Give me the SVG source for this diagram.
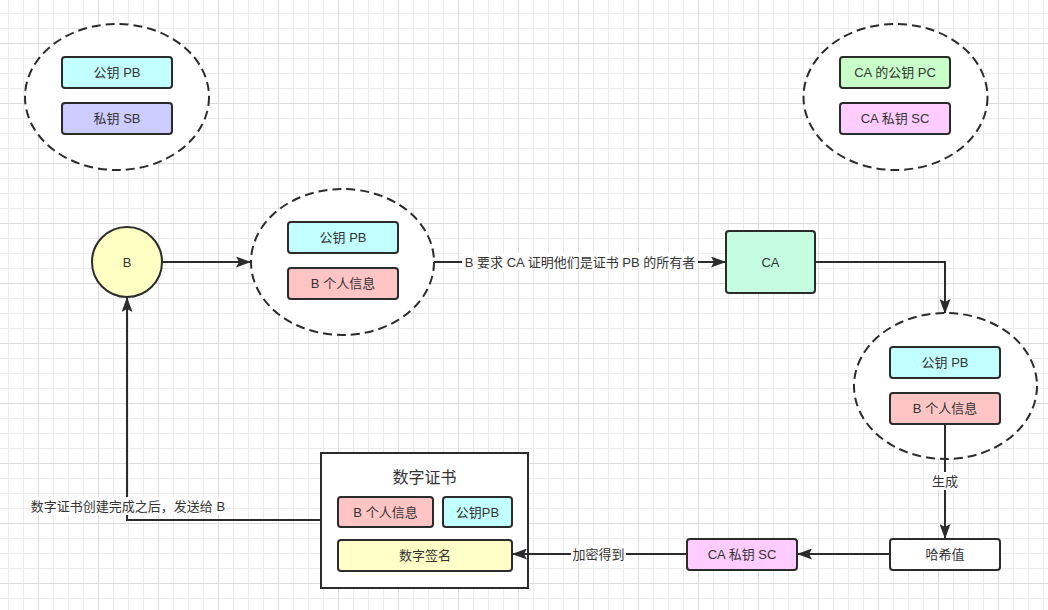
<svg xmlns="http://www.w3.org/2000/svg" width="1048" height="610" viewBox="0 0 1048 610">
  <defs>
    <pattern id="minor" x="8" y="13" width="15" height="15" patternUnits="userSpaceOnUse">
      <rect x="0" y="0" width="1" height="15" fill="#ececec"/>
      <rect x="0" y="0" width="15" height="1" fill="#ececec"/>
    </pattern>
    <pattern id="major" x="38" y="43" width="60" height="60" patternUnits="userSpaceOnUse">
      <rect x="0" y="0" width="1" height="60" fill="#dcdcdc"/>
      <rect x="0" y="0" width="60" height="1" fill="#dcdcdc"/>
    </pattern>
    <marker id="arr" viewBox="0 0 15 11" refX="14" refY="5.5" markerWidth="15" markerHeight="11" markerUnits="userSpaceOnUse" orient="auto">
      <path d="M0,0 L15,5.5 L0,11 L3,5.5 z" fill="#2b2b2b"/>
    </marker>
    <style>
      text { font-family: "Liberation Sans", "Noto Sans CJK SC", sans-serif; font-size: 13px; fill: #333333; text-anchor: middle; dominant-baseline: central; }
      .title { font-size: 16px; }
      .box { stroke: #2b2b2b; stroke-width: 2; }
      .grp { fill: #ffffff; stroke: #2b2b2b; stroke-width: 2; stroke-dasharray: 9 5; }
      .edge { fill: none; stroke: #2b2b2b; stroke-width: 2; }
      .lblbg { fill: #ffffff; }
      .pub { fill: #c2ffff; }
      .priv { fill: #ccccff; }
      .info { fill: #ffc4c4; }
      .capub { fill: #c8ffc8; }
      .capriv { fill: #ffccff; }
      .sig { fill: #ffffc8; }
    </style>
  </defs>
  <rect width="1048" height="610" fill="#ffffff"/>
  <rect width="1048" height="610" fill="url(#minor)"/>
  <rect width="1048" height="610" fill="url(#major)"/>

  <g id="b-keys">
    <ellipse class="grp" cx="117" cy="97" rx="92" ry="73"/>
    <rect class="box pub" x="62" y="57" width="110" height="31" rx="3"/>
    <text x="117" y="72.5">公钥 PB</text>
    <rect class="box priv" x="62" y="103" width="110" height="31" rx="3"/>
    <text x="117" y="118.5">私钥 SB</text>
  </g>

  <g id="ca-keys">
    <ellipse class="grp" cx="895.5" cy="97" rx="92" ry="73"/>
    <rect class="box capub" x="840" y="57" width="110" height="31" rx="3"/>
    <text x="895" y="72.5">CA 的公钥 PC</text>
    <rect class="box capriv" x="840" y="103" width="110" height="31" rx="3"/>
    <text x="895" y="118.5">CA 私钥 SC</text>
  </g>

  <g id="node-b">
    <circle cx="127" cy="262" r="35" fill="#ffffc4" stroke="#2b2b2b" stroke-width="2"/>
    <text x="127" y="262">B</text>
  </g>

  <g id="b-request">
    <ellipse class="grp" cx="342.5" cy="262" rx="91.5" ry="73"/>
    <rect class="box pub" x="288" y="222" width="110" height="31" rx="3"/>
    <text x="343" y="237.5">公钥 PB</text>
    <rect class="box info" x="288" y="268" width="110" height="31" rx="3"/>
    <text x="343" y="283.5">B 个人信息</text>
  </g>

  <g id="node-ca">
    <rect class="box" x="726" y="231" width="89" height="62" rx="3" fill="#c4fde0"/>
    <text x="770.5" y="262">CA</text>
  </g>

  <g id="ca-data">
    <ellipse class="grp" cx="945.5" cy="386" rx="91.5" ry="73"/>
    <rect class="box pub" x="890" y="347" width="110" height="31" rx="3"/>
    <text x="945" y="362.5">公钥 PB</text>
    <rect class="box info" x="890" y="393" width="110" height="31" rx="3"/>
    <text x="945" y="408.5">B 个人信息</text>
  </g>

  <g id="node-hash">
    <rect class="box" x="890" y="539" width="110" height="31" rx="3" fill="#ffffff"/>
    <text x="945" y="554.5">哈希值</text>
  </g>

  <g id="node-casc">
    <rect class="box capriv" x="687" y="539" width="110" height="31" rx="3"/>
    <text x="742" y="554.5">CA 私钥 SC</text>
  </g>

  <g id="certificate">
    <rect x="321" y="453" width="207" height="135" fill="#ffffff" stroke="#2b2b2b" stroke-width="2"/>
    <text class="title" x="424.5" y="477">数字证书</text>
    <rect class="box info" x="338" y="497" width="95" height="30" rx="3"/>
    <text x="385.5" y="512">B 个人信息</text>
    <rect class="box pub" x="443" y="497" width="69" height="30" rx="3"/>
    <text x="477.5" y="512">公钥PB</text>
    <rect class="box sig" x="338" y="540" width="174" height="31" rx="3"/>
    <text x="425" y="555.5">数字签名</text>
  </g>

  <g id="connectors">
    <path class="edge" d="M162,262 L250,262" marker-end="url(#arr)"/>
    <path class="edge" d="M434,262 L725,262" marker-end="url(#arr)"/>
    <rect class="lblbg" x="462" y="253" width="236" height="18"/>
    <text x="580" y="262">B 要求 CA 证明他们是证书 PB 的所有者</text>
    <path class="edge" d="M815,262 L945,262 L945,313" marker-end="url(#arr)"/>
    <path class="edge" d="M945,425 L945,538" marker-end="url(#arr)"/>
    <rect class="lblbg" x="931" y="472" width="28" height="18"/>
    <text x="945" y="481">生成</text>
    <path class="edge" d="M889,554 L798,554" marker-end="url(#arr)"/>
    <path class="edge" d="M686,554 L513,554" marker-end="url(#arr)"/>
    <rect class="lblbg" x="571" y="545" width="55" height="18"/>
    <text x="598.5" y="554">加密得到</text>
    <path class="edge" d="M320,520 L127,520 L127,298" marker-end="url(#arr)"/>
    <rect class="lblbg" x="30" y="497" width="196" height="18"/>
    <text x="128" y="506">数字证书创建完成之后，发送给 B</text>
  </g>
</svg>
